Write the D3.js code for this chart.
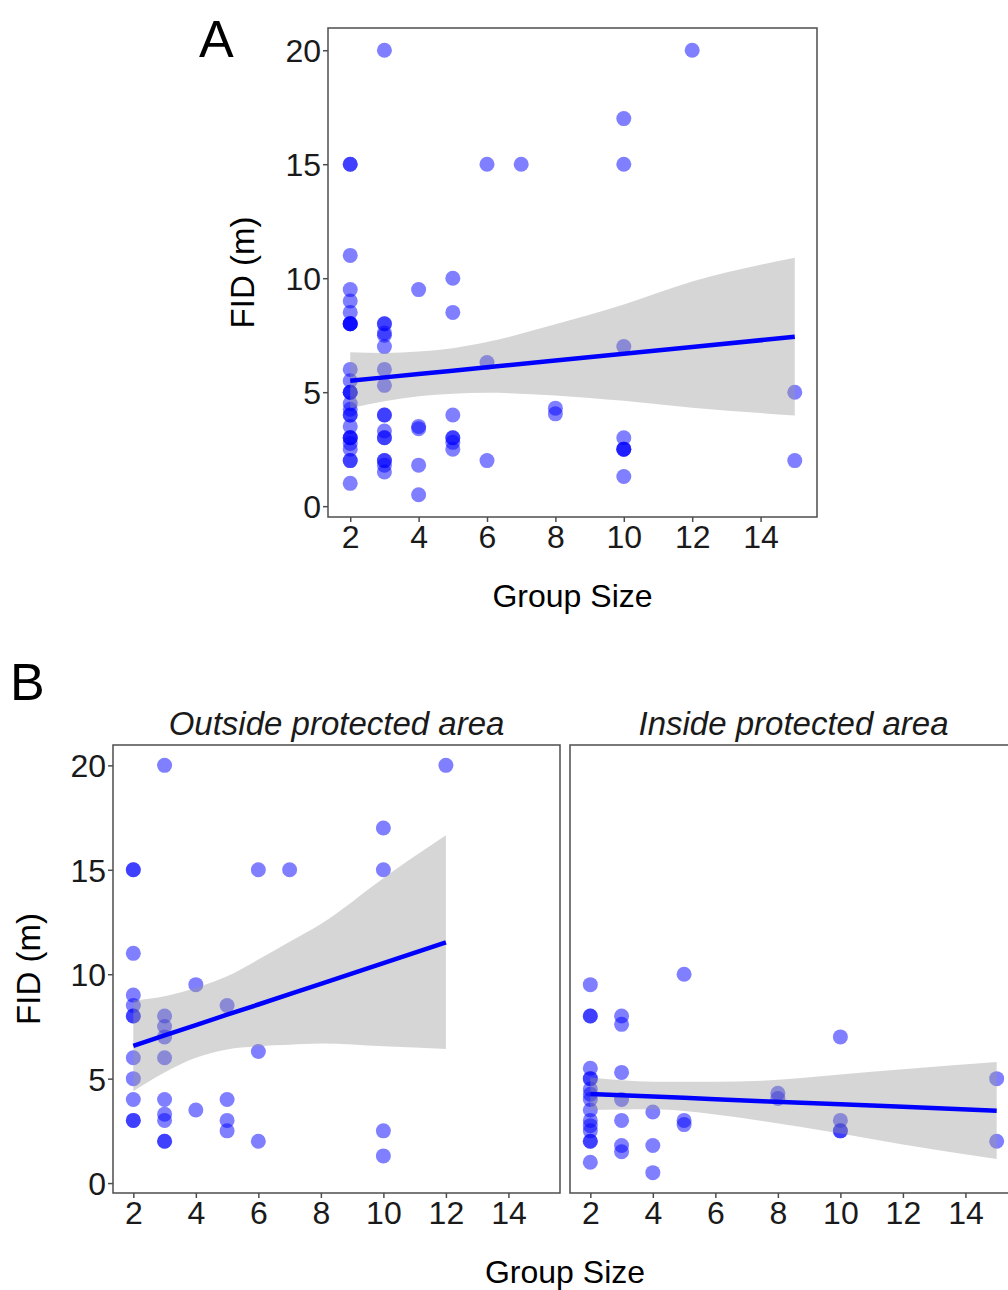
<!DOCTYPE html>
<html>
<head>
<meta charset="utf-8">
<script src="https://cdn.jsdelivr.net/npm/d3@7"></script>
<style>
  html, body { margin: 0; padding: 0; background: #ffffff; }
  svg { display: block; }
</style>
</head>
<body>
<svg id="chart" width="1008" height="1290"></svg>
<script>
// ---------------- DATA ----------------
// Outside protected area (group size, FID in m)
const outsideGroup = [2,2,2,2,2,2,2,2,2,2,2,2, 3,3,3,3,3,3,3,3,3,3, 4,4, 5,5,5,5, 6,6,6, 7, 10,10,10,10, 12];
const outsideFID   = [15,15,11,9,8.5,8,8,6,5,4,3,3, 20,8,7.5,7,6,4,3.3,3,2,2, 9.5,3.5, 8.5,4,3,2.5, 15,6.3,2, 15, 17,15,2.5,1.3, 20];
// Inside protected area
const insideGroup = [2,2,2,2,2,2,2,2,2,2,2,2,2,2,2,2, 3,3,3,3,3,3,3, 4,4,4, 5,5,5, 8,8, 10,10,10,10, 15,15];
const insideFID   = [9.5,8,8,5.5,5,5,4.5,4.25,4,3.5,3,2.75,2.5,2,2,1, 8,7.6,5.3,4,3,1.8,1.5, 3.4,1.8,0.5, 10,3,2.8, 4.3,4.05, 7,3,2.5,2.5, 5,2];

// Linear fits with 95% confidence band
const fitAllX   = [2, 3, 4, 5, 6, 8, 10, 12, 15];
const fitAllY   = [5.5, 5.65, 5.8, 5.94, 6.09, 6.39, 6.69, 6.98, 7.43];
const fitAllLo  = [4.3, 4.6, 4.82, 4.93, 4.97, 4.86, 4.62, 4.32, 3.98];
const fitAllHi  = [6.75, 6.72, 6.78, 6.93, 7.2, 7.98, 8.85, 9.85, 10.9];

const fitOutX   = [2, 3, 4, 5, 6, 7, 8, 10, 12];
const fitOutY   = [6.57, 7.07, 7.56, 8.06, 8.55, 9.05, 9.54, 10.53, 11.52];
const fitOutLo  = [4.4, 5.3, 6.0, 6.4, 6.55, 6.62, 6.68, 6.55, 6.42];
const fitOutHi  = [8.75, 8.95, 9.35, 9.9, 10.7, 11.55, 12.4, 14.6, 16.65];

const fitInX    = [2, 3, 4, 5, 6, 7.5, 10, 12, 15];
const fitInY    = [4.26, 4.2, 4.14, 4.08, 4.01, 3.92, 3.77, 3.65, 3.46];
const fitInLo   = [3.5, 3.52, 3.53, 3.45, 3.28, 2.97, 2.37, 1.85, 1.15];
const fitInHi   = [5.05, 4.92, 4.85, 4.85, 4.85, 4.9, 5.2, 5.45, 5.8];

const xTicks = [2, 4, 6, 8, 10, 12, 14];
const yTicks = [0, 5, 10, 15, 20];
const facetTitles = ["Outside protected area", "Inside protected area"];
const xTitle = "Group Size";
const yTitle = "FID (m)";
const panelLetters = ["A", "B"];

// ---------------- DRAW ----------------
const svg = d3.select("#chart");
const FONT = "'Liberation Sans', Arial, sans-serif";
const frameColor = "#4d4d4d";

const xDomain = [1.35, 15.65];
const yDomain = [-0.475, 20.975];

function drawPanel(g, box, xs, ys, fit) {
  const x = d3.scaleLinear().domain(xDomain).range([box.x0, box.x1]);
  const y = d3.scaleLinear().domain(yDomain).range([box.y1, box.y0]);

  // points
  g.append("g").selectAll("circle")
    .data(d3.zip(xs, ys))
    .join("circle")
    .attr("cx", d => x(d[0]))
    .attr("cy", d => y(d[1]))
    .attr("r", 7.5)
    .attr("fill", "#0000ff")
    .attr("fill-opacity", 0.5);

  // confidence band
  const bandData = fit.x.map((v, i) => ({x: v, lo: fit.lo[i], hi: fit.hi[i], y: fit.y[i]}));
  g.append("path")
    .datum(bandData)
    .attr("d", d3.area().x(d => x(d.x)).y0(d => y(d.lo)).y1(d => y(d.hi)).curve(d3.curveMonotoneX))
    .attr("fill", "#999999")
    .attr("fill-opacity", 0.4);

  // fit line
  g.append("path")
    .datum(bandData)
    .attr("d", d3.line().x(d => x(d.x)).y(d => y(d.y)))
    .attr("fill", "none")
    .attr("stroke", "#0000ff")
    .attr("stroke-width", 4.5);

  // frame
  g.append("rect")
    .attr("x", box.x0).attr("y", box.y0)
    .attr("width", box.x1 - box.x0).attr("height", box.y1 - box.y0)
    .attr("fill", "none").attr("stroke", frameColor).attr("stroke-width", 1.5);

  // x axis
  const xa = g.append("g")
    .attr("transform", `translate(0,${box.y1})`)
    .call(d3.axisBottom(x).tickValues(xTicks).tickSize(5).tickPadding(3));
  xa.select(".domain").remove();
  xa.selectAll("line").attr("stroke", frameColor).attr("stroke-width", 1.5);
  xa.selectAll("text").attr("font-family", FONT).attr("font-size", 32).attr("fill", "#1a1a1a");

  return {x, y};
}

function drawYAxis(g, box, y) {
  const ya = g.append("g")
    .attr("transform", `translate(${box.x0},0)`)
    .call(d3.axisLeft(y).tickValues(yTicks).tickSize(5).tickPadding(2));
  ya.select(".domain").remove();
  ya.selectAll("line").attr("stroke", frameColor).attr("stroke-width", 1.5);
  ya.selectAll("text").attr("font-family", FONT).attr("font-size", 32).attr("fill", "#1a1a1a")
    .attr("dy", "0.36em");
}

// ---- Panel A ----
const boxA = {x0: 328, x1: 817, y0: 28, y1: 517};
const gA = svg.append("g");
const sA = drawPanel(gA, boxA, outsideGroup.concat(insideGroup), outsideFID.concat(insideFID),
  {x: fitAllX, y: fitAllY, lo: fitAllLo, hi: fitAllHi});
drawYAxis(gA, boxA, sA.y);

gA.append("text").text(yTitle)
  .attr("transform", `translate(254,${(boxA.y0 + boxA.y1) / 2}) rotate(-90)`)
  .attr("text-anchor", "middle")
  .attr("font-family", FONT).attr("font-size", 33).attr("fill", "#000");
gA.append("text").text(xTitle)
  .attr("x", (boxA.x0 + boxA.x1) / 2).attr("y", 607)
  .attr("text-anchor", "middle")
  .attr("font-family", FONT).attr("font-size", 32).attr("fill", "#000");
gA.append("text").text(panelLetters[0])
  .attr("x", 199).attr("y", 57)
  .attr("font-family", FONT).attr("font-size", 52).attr("fill", "#000");

// ---- Panel B ----
const boxBL = {x0: 113, x1: 560, y0: 745, y1: 1193};
const boxBR = {x0: 570, x1: 1017, y0: 745, y1: 1193};
const gB = svg.append("g");
const sBL = drawPanel(gB, boxBL, outsideGroup, outsideFID,
  {x: fitOutX, y: fitOutY, lo: fitOutLo, hi: fitOutHi});
drawPanel(gB, boxBR, insideGroup, insideFID,
  {x: fitInX, y: fitInY, lo: fitInLo, hi: fitInHi});
drawYAxis(gB, boxBL, sBL.y);

[boxBL, boxBR].forEach((b, i) => {
  gB.append("text").text(facetTitles[i])
    .attr("x", (b.x0 + b.x1) / 2).attr("y", 735)
    .attr("text-anchor", "middle")
    .attr("font-family", FONT).attr("font-style", "italic")
    .attr("font-size", 33).attr("fill", "#1a1a1a");
});

gB.append("text").text(yTitle)
  .attr("transform", `translate(40,${(boxBL.y0 + boxBL.y1) / 2}) rotate(-90)`)
  .attr("text-anchor", "middle")
  .attr("font-family", FONT).attr("font-size", 33).attr("fill", "#000");
gB.append("text").text(xTitle)
  .attr("x", (boxBL.x0 + boxBR.x1) / 2).attr("y", 1283)
  .attr("text-anchor", "middle")
  .attr("font-family", FONT).attr("font-size", 32).attr("fill", "#000");
gB.append("text").text(panelLetters[1])
  .attr("x", 10).attr("y", 700)
  .attr("font-family", FONT).attr("font-size", 52).attr("fill", "#000");
</script>
</body>
</html>
